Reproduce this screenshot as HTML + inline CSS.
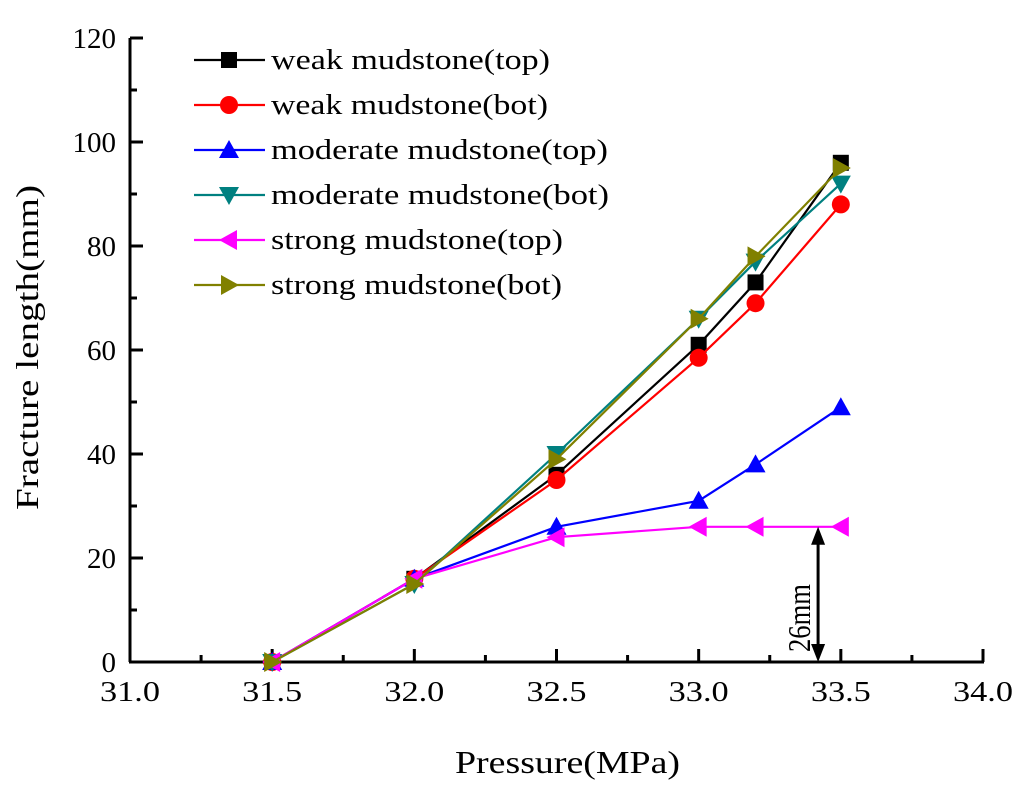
<!DOCTYPE html>
<html><head><meta charset="utf-8"><style>
body{margin:0;background:#fff;}
svg text{font-family:"Liberation Serif",serif;fill:#000;}
</style></head><body>
<svg id="chart" width="1024" height="787" xmlns="http://www.w3.org/2000/svg">
<g id="axes"></g><g id="series"></g><g id="legend"></g>
</svg>
<script>
const xValues=[31.5,32.0,32.5,33.0,33.2,33.5];
const weakTop=[0,16,36,61,73,96];
const weakBot=[0,16,35,58.5,69,88];
const modTop=[0,16,26,31,38,49];
const modBot=[0,15,40,66,77,92];
const strongTop=[0,16,24,26,26,26];
const strongBot=[0,15,39,66,78,95];
const seriesNames=["weak mudstone(top)","weak mudstone(bot)","moderate mudstone(top)","moderate mudstone(bot)","strong mudstone(top)","strong mudstone(bot)"];
const xTicks=[31.0,31.5,32.0,32.5,33.0,33.5,34.0];
const yTicks=[0,20,40,60,80,100,120];
const arrowX=33.42, arrowVal=26;

const NS="http://www.w3.org/2000/svg";
const X0=130,X1=983,Y0=662,Y1=38;
const sx=v=>X0+(v-31)/3*(X1-X0);
const sy=v=>Y0-v/120*(Y0-Y1);
function mk(tag,attrs,parent){const e=document.createElementNS(NS,tag);for(const k in attrs)e.setAttribute(k,attrs[k]);parent.appendChild(e);return e;}
const axes=document.getElementById('axes');
const yAxis=mk('line',{x1:X0,y1:Y0,x2:X0,y2:Y1,stroke:'#000','stroke-width':3},axes);


const xAxis=mk('line',{x1:X0-1,y1:Y0,x2:X1+1,y2:Y0,stroke:'#000','stroke-width':3},axes);


xTicks.forEach(t=>{
  mk('line',{x1:sx(t),y1:Y0,x2:sx(t),y2:Y0-13,stroke:'#000','stroke-width':3},axes);
  const tx=mk('text',{x:sx(t)-30,y:Y0+39,'font-size':29,textLength:60,lengthAdjust:'spacingAndGlyphs'},axes);
  tx.textContent=t.toFixed(1);
  
  
});
for(let t=31.25;t<34;t+=0.5) mk('line',{x1:sx(t),y1:Y0,x2:sx(t),y2:Y0-7,stroke:'#000','stroke-width':3},axes);
yTicks.forEach(t=>{
  mk('line',{x1:X0,y1:sy(t),x2:X0+13,y2:sy(t),stroke:'#000','stroke-width':3},axes);
  const tx=mk('text',{x:X0-14,y:sy(t)+10,'text-anchor':'end','font-size':29},axes);
  tx.textContent=t;
  
  
});
for(let t=10;t<120;t+=20) mk('line',{x1:X0,y1:sy(t),x2:X0+7,y2:sy(t),stroke:'#000','stroke-width':3},axes);
const xt=mk('text',{x:455,y:773,'font-size':32,textLength:225,lengthAdjust:'spacingAndGlyphs'},axes);
xt.textContent='Pressure(MPa)';


const yt=mk('text',{x:0,y:0,'font-size':32,textLength:325,lengthAdjust:'spacingAndGlyphs',transform:'translate(38,510) rotate(-90)'},axes);
yt.textContent='Fracture length(mm)';



function marker(type,x,y,c,parent){
  const s=9;
  if(type==='sq') return mk('rect',{x:x-s+1,y:y-s+1,width:2*s-2,height:2*s-2,fill:c},parent);
  if(type==='ci') return mk('circle',{cx:x,cy:y,r:s,fill:c},parent);
  let p;
  if(type==='up') p=[[x,y-s-1],[x+s+1,y+s-1],[x-s-1,y+s-1]];
  if(type==='dn') p=[[x,y+s+1],[x+s+1,y-s+1],[x-s-1,y-s+1]];
  if(type==='lt') p=[[x-s-1,y],[x+s-1,y-s-1],[x+s-1,y+s+1]];
  if(type==='rt') p=[[x+s+1,y],[x-s+1,y-s-1],[x-s+1,y+s+1]];
  return mk('polygon',{points:p.map(q=>q.join(',')).join(' '),fill:c},parent);
}
const allSeries=[weakTop,weakBot,modTop,modBot,strongTop,strongBot];
const colors=['#000','#ff0000','#0000ff','#008080','#ff00ff','#808000'];
const marks=['sq','ci','up','dn','lt','rt'];
const keys=['weak-top','weak-bot','moderate-top','moderate-bot','strong-top','strong-bot'];
const legendWidths=[279,277,337,338,292,291];
const sg=document.getElementById('series');
allSeries.forEach((vals,i)=>{
  const g=mk('g',{},sg);
  
  
  const line=mk('polyline',{points:vals.map((v,j)=>sx(xValues[j])+','+sy(v)).join(' '),fill:'none',stroke:colors[i],'stroke-width':2.2},g);
  
  
  vals.forEach((v,j)=>{
    const m=marker(marks[i],sx(xValues[j]),sy(v),colors[i],g);
    
    
  });
});
const ag=mk('g',{},sg);


const ax=sx(arrowX);
mk('line',{x1:ax,y1:sy(arrowVal)+14,x2:ax,y2:Y0-14,stroke:'#000','stroke-width':3},ag);
mk('polygon',{points:`${ax},${sy(arrowVal)} ${ax-7},${sy(arrowVal)+18} ${ax+7},${sy(arrowVal)+18}`,fill:'#000'},ag);
mk('polygon',{points:`${ax},${Y0} ${ax-7},${Y0-18} ${ax+7},${Y0-18}`,fill:'#000'},ag);
const at=mk('text',{x:0,y:0,'font-size':32,textLength:68,lengthAdjust:'spacingAndGlyphs',transform:`translate(${ax-8},652) rotate(-90)`},ag);
at.textContent='26mm';

const lg=document.getElementById('legend');
seriesNames.forEach((n,i)=>{
  const y=60+i*45;
  const e=mk('g',{},lg);
  
  
  mk('line',{x1:194,y1:y,x2:265,y2:y,stroke:colors[i],'stroke-width':2.2},e);
  marker(marks[i],229,y,colors[i],e);
  const t=mk('text',{x:271,y:y+9,'font-size':29,textLength:legendWidths[i],lengthAdjust:'spacingAndGlyphs'},e);
  t.textContent=n;
});
</script>
</body></html>
